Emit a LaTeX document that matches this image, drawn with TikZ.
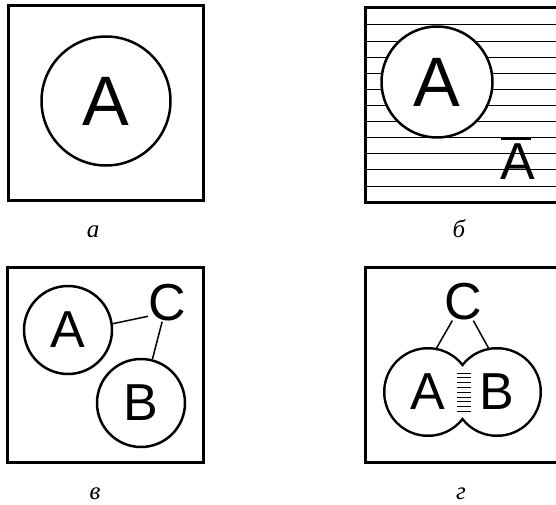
\documentclass[tikz,border=0pt]{standalone}
\usepackage{fontspec}
\setmainfont{Liberation Sans}
\newfontfamily\capfont{Liberation Serif}
\usetikzlibrary{backgrounds}

\begin{document}
\begin{tikzpicture}[x=1pt,y=-1pt, every node/.style={inner sep=0pt},
  frame/.style={line width=3pt},
  bigring/.style={draw,circle,line width=2.5pt,fill=white,font=\fontsize{70}{70}\selectfont},
  ring/.style={draw,circle,line width=2.5pt,fill=white,minimum size=88pt,font=\fontsize{52}{52}\selectfont},
  letter/.style={font=\fontsize{52}{52}\selectfont},
  link/.style={line width=1.5pt},
  caption/.style={anchor=base,font=\capfont\itshape\fontsize{25}{25}\selectfont}]
\useasboundingbox (0,0) rectangle (556,505);
\clip (0,0) rectangle (556,505);

% a
\draw[frame] (8,6) rectangle (203,200);
\node[bigring,minimum size=129pt] (a1) at (106,101) {A};
\node[caption] (cap1) at (93,237) {а};

% b
\foreach \i in {0,...,10}
  \draw[line width=1pt] (365,{25+16.1*\i}) -- (600,{25+16.1*\i});
\draw[frame] (365,8) rectangle (600,202);
\node[bigring,minimum size=111pt] (a2) at (437,82) {A};
\node[letter] (nota) at (518,162) {A};
\draw[line width=3pt] ([xshift=1pt,yshift=5.5pt]nota.north west) -- ([xshift=-5pt,yshift=5.5pt]nota.north east);
\node[caption] (cap2) at (459,237) {б};

% c
\draw[frame] (7,267) rectangle (203,462);
\node[ring] (a3) at (68,330) {A};
\node[ring] (b3) at (141,403) {B};
\node[letter] (c3) at (167,303) {C};
\draw[link] (a3.8) -- (c3.215);
\draw[link] (c3) -- (b3);
\node[caption] (cap3) at (95,499) {в};

% d
\draw[frame] (365,267) rectangle (600,462);
\node[letter,circle,minimum size=85pt] (a4) at (428,392) {A};
\node[letter,circle,minimum size=85pt] (b4) at (497,392) {B};
\begin{scope}[on background layer]
  \draw[line width=5pt] (a4.center) circle[radius=42.5pt] (b4.center) circle[radius=42.5pt];
  \fill[white] (a4.center) circle[radius=42.5pt] (b4.center) circle[radius=42.5pt];
\end{scope}
\foreach \i in {0,...,8}
  \draw[line width=0.8pt] (457,{373+4.8*\i}) -- (471,{373+4.8*\i});
\node[letter] (c4) at (463,302) {C};
\draw[link] (c4) -- (a4.80);
\draw[link] (c4) -- (b4.100);
\node[caption] (cap4) at (461,499) {г};
\end{tikzpicture}
\end{document}
